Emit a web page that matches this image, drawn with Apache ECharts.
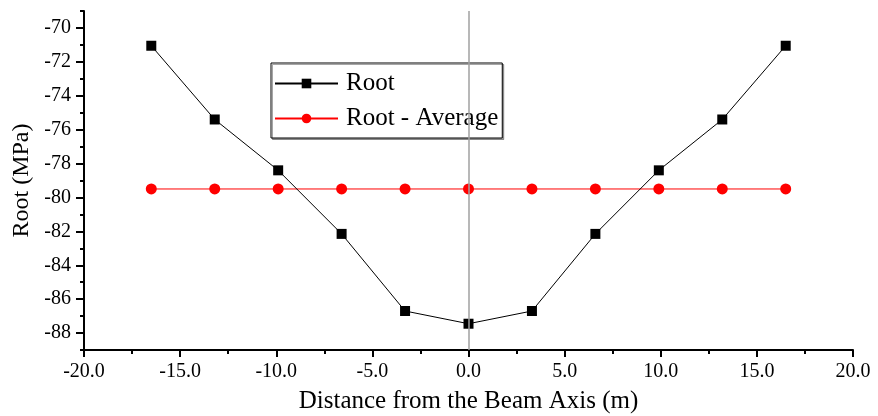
<!DOCTYPE html>
<html>
<head>
<meta charset="utf-8">
<script src="https://cdn.jsdelivr.net/npm/echarts@6/dist/echarts.min.js"></script>
<style>
html,body{margin:0;padding:0;background:#fff;}
#chart{width:878px;height:416px;}
</style>
</head>
<body>
<div id="chart"></div>
<script>
// ---- data ----
const xValues = [-16.5, -13.2, -9.9, -6.6, -3.3, 0, 3.3, 6.6, 9.9, 13.2, 16.5];
const rootValues = [-71.05, -75.4, -78.4, -82.15, -86.7, -87.45, -86.7, -82.15, -78.4, -75.4, -71.05];
const averageValues = [-79.5, -79.5, -79.5, -79.5, -79.5, -79.5, -79.5, -79.5, -79.5, -79.5, -79.5];
const seriesNames = ['Root', 'Root - Average'];
const yTickLabels = [-88, -86, -84, -82, -80, -78, -76, -74, -72, -70];
const yMinorTicks = [-89, -87, -85, -83, -81, -79, -77, -75, -73, -71, -69];
const xTickLabels = [-20, -15, -10, -5, 0, 5, 10, 15, 20];
const xMinorTicks = [-17.5, -12.5, -7.5, -2.5, 2.5, 7.5, 12.5, 17.5];

const FONT = '"Liberation Serif", "Times New Roman", serif';
const chart = echarts.init(document.getElementById('chart'), null, {renderer: 'canvas'});

const pair = (xs, ys) => xs.map((x, i) => [x, ys[i]]);

chart.setOption({
  animation: false,
  backgroundColor: '#fff',
  textStyle: {fontFamily: FONT, color: '#000'},
  grid: {left: 84, right: 25, top: 11, bottom: 66, containLabel: false, outerBoundsMode: 'none'},
  legend: {
    left: 271, top: 63,
    orient: 'vertical',
    data: seriesNames,
    backgroundColor: '#fff',
    borderColor: '#000', borderWidth: 1,
    shadowColor: 'rgba(0,0,0,0.35)', shadowOffsetX: 1.5, shadowOffsetY: 1.5, shadowBlur: 0,
    padding: [8, 4, 7, 3],
    itemWidth: 63, itemHeight: 12, itemGap: 10,
    textStyle: {fontFamily: FONT, fontSize: 25, color: '#000', padding: [0, 0, 0, 3]}
  },
  xAxis: [{
    type: 'value', min: -20, max: 20, interval: 5,
    name: 'Distance from the Beam Axis (m)', nameLocation: 'middle', nameGap: 39,
    nameTextStyle: {fontFamily: FONT, fontSize: 25, color: '#000'},
    axisLine: {show: true, onZero: false, lineStyle: {color: '#000', width: 2}},
    axisTick: {show: true, inside: false, length: 7, lineStyle: {color: '#000', width: 2}, customValues: xTickLabels},
    axisLabel: {show: true, fontFamily: FONT, fontSize: 20, color: '#000', margin: 12,
      customValues: xTickLabels, formatter: v => Number(v).toFixed(1)},
    splitLine: {show: false}
  }, {
    type: 'value', min: -20, max: 20, position: 'bottom',
    axisLine: {show: false, onZero: false},
    axisTick: {show: true, length: 4, lineStyle: {color: '#000', width: 2}, customValues: xMinorTicks},
    axisLabel: {show: false},
    splitLine: {show: false}
  }],
  yAxis: [{
    type: 'value', min: -89, max: -69,
    name: 'Root (MPa)', nameLocation: 'middle', nameGap: 44,
    nameTextStyle: {fontFamily: FONT, fontSize: 24, color: '#000'},
    axisLine: {show: true, onZero: false, lineStyle: {color: '#000', width: 2}},
    axisTick: {show: true, length: 8, lineStyle: {color: '#000', width: 2}, customValues: yTickLabels},
    axisLabel: {show: true, fontFamily: FONT, fontSize: 20, color: '#000', margin: 13,
      customValues: yTickLabels, formatter: v => String(v)},
    splitLine: {show: false}
  }, {
    type: 'value', min: -89, max: -69, position: 'left',
    axisLine: {show: false, onZero: false},
    axisTick: {show: true, length: 4, lineStyle: {color: '#000', width: 2}, customValues: yMinorTicks},
    axisLabel: {show: false},
    splitLine: {show: false}
  }],
  series: [{
    name: seriesNames[0], type: 'line',
    xAxisIndex: 0, yAxisIndex: 0,
    data: pair(xValues, rootValues),
    symbol: 'rect', symbolSize: 10,
    itemStyle: {color: '#000'},
    lineStyle: {color: '#000', width: 1},
    z: 3,
    markLine: {
      silent: true, symbol: 'none', label: {show: false},
      lineStyle: {color: '#a0a0a0', width: 1.5, type: 'solid'},
      data: [{xAxis: 0}]
    }
  }, {
    name: seriesNames[1], type: 'line',
    xAxisIndex: 0, yAxisIndex: 0,
    data: pair(xValues, averageValues),
    symbol: 'circle', symbolSize: 11,
    itemStyle: {color: '#ff0000'},
    lineStyle: {color: '#ff0000', width: 1},
    z: 2
  }]
});
</script>
</body>
</html>
